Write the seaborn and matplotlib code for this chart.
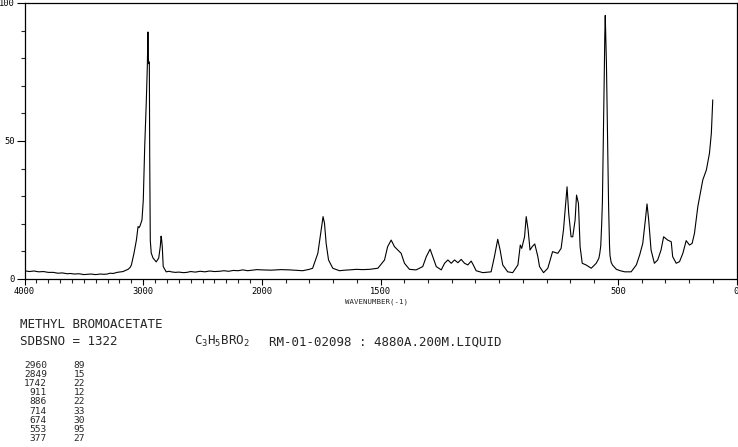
"""
Raman spectrum of methyl bromoacetate (SDBS style sheet).
"""
import numpy as np
import pandas as pd
import matplotlib
matplotlib.use("Agg")
import matplotlib.pyplot as plt
from matplotlib.ticker import FixedLocator, MultipleLocator, FuncFormatter
import seaborn as sns

# ===========================================================================
# DATA
# ===========================================================================
WAVENUMBER = [
    4000, 3960, 3920, 3880, 3840, 3800, 3757, 3720, 3680, 3640, 3614, 3580,
    3540, 3500, 3471, 3440, 3400, 3360, 3330, 3303, 3280, 3253, 3220, 3190,
    3169, 3150, 3127, 3110, 3099, 3077, 3057, 3043, 3035, 3026, 3010, 2999,
    2987, 2974, 2965, 2960, 2956, 2953, 2948, 2945, 2940, 2932, 2917, 2890,
    2869, 2856, 2849, 2845, 2839, 2831, 2806, 2780, 2764, 2730, 2700, 2660,
    2632, 2600, 2560, 2520, 2480, 2440, 2400, 2355, 2320, 2280, 2240, 2200,
    2160, 2120, 2078, 2040, 2000, 1960, 1920, 1883, 1850, 1828, 1800, 1786,
    1764, 1750, 1742, 1736, 1729, 1719, 1701, 1673, 1650, 1631, 1602, 1575,
    1546, 1511, 1483, 1470, 1455, 1441, 1427, 1413, 1399, 1378, 1350, 1322,
    1307, 1291, 1280, 1265, 1244, 1230, 1216, 1202, 1188, 1174, 1160, 1146,
    1132, 1118, 1109, 1097, 1069, 1034, 1020, 1006, 996, 985, 964, 943,
    921, 911, 905, 893, 886, 878, 870, 861, 850, 837, 830, 813,
    795, 775, 753, 739, 729, 721, 714, 707, 697, 690, 680, 674,
    666, 659, 650, 634, 612, 591, 580, 576, 572, 568, 565, 562,
    560, 557, 555, 553, 551, 548, 545, 543, 539, 535, 533, 528,
    522, 506, 490, 471, 444, 422, 408, 395, 384, 377, 370, 360,
    346, 332, 318, 307, 290, 275, 269, 254, 240, 226, 212, 198,
    187, 177, 163, 142, 127, 114, 106, 100,
]
INTENSITY = [
    3.0, 2.7, 2.9, 2.6, 2.7, 2.4, 2.4, 2.1, 2.2, 1.9, 2.0, 1.8,
    1.9, 1.6, 1.7, 1.8, 1.6, 1.8, 1.7, 1.8, 2.1, 2.0, 2.4, 2.6,
    2.7, 3.1, 3.5, 4.2, 5.1, 9.4, 14.1, 19.0, 18.6, 19.3, 21.4, 28.6,
    48.0, 63.8, 77.0, 89.5, 80.0, 78.0, 78.6, 45.0, 14.0, 9.4, 7.6, 6.2,
    7.6, 11.7, 15.5, 14.5, 11.7, 4.5, 2.6, 2.8, 2.6, 2.4, 2.5, 2.3,
    2.4, 2.7, 2.5, 2.8, 2.6, 2.9, 2.7, 2.8, 3.0, 2.8, 3.1, 3.0,
    3.3, 3.0, 3.2, 3.4, 3.3, 3.2, 3.4, 3.3, 3.1, 3.0, 3.5, 3.9,
    9.3, 17.8, 22.6, 20.2, 12.9, 6.9, 3.9, 3.0, 3.2, 3.3, 3.5, 3.4,
    3.5, 3.9, 6.9, 11.7, 14.1, 11.7, 10.5, 9.3, 5.7, 3.5, 3.3, 4.5,
    8.1, 10.8, 8.1, 4.5, 3.3, 5.7, 6.9, 5.7, 6.9, 5.9, 7.1, 5.7,
    5.1, 6.5, 5.1, 3.0, 2.3, 2.6, 8.1, 14.4, 10.5, 5.1, 2.6, 2.3,
    5.1, 12.3, 11.1, 15.3, 22.6, 17.8, 10.5, 11.7, 12.7, 8.1, 4.5, 2.3,
    3.9, 9.9, 9.3, 11.1, 17.8, 26.2, 33.4, 23.8, 15.3, 15.3, 21.4, 30.4,
    27.4, 11.7, 5.7, 5.1, 3.9, 5.7, 7.5, 9.3, 12.0, 20.0, 28.0, 45.0,
    55.0, 75.0, 88.0, 95.5, 88.0, 78.0, 60.0, 48.0, 26.8, 12.0, 8.5, 6.0,
    5.0, 3.5, 3.0, 2.6, 2.6, 5.1, 8.7, 12.9, 21.4, 27.2, 21.4, 10.5,
    5.7, 6.9, 10.5, 15.3, 14.1, 13.5, 8.1, 5.7, 6.3, 9.3, 13.9, 12.3,
    12.9, 16.6, 26.2, 35.9, 39.5, 45.5, 52.8, 64.9,
]

PEAK_POS = [2960, 2849, 1742, 911, 886, 714, 674, 553, 377]
PEAK_INT = [89, 15, 22, 12, 22, 33, 30, 95, 27]

X_TICKS = [4000, 3000, 2000, 1500, 500, 0]
Y_TICKS = [0, 50, 100]

COMPOUND = "METHYL BROMOACETATE"
SDBS_NO = "SDBSNO = 1322"
FORMULA = "C$_3$H$_5$BRO$_2$"
CONDITIONS = "RM-01-02098 : 4880A.200M.LIQUID"

spec = pd.DataFrame({"wavenumber": WAVENUMBER, "intensity": INTENSITY})

# ===========================================================================
# STYLE
# ===========================================================================
sns.set_style("ticks")
plt.rcParams["font.family"] = ["DejaVu Sans Mono"]
plt.rcParams["mathtext.fontset"] = "custom"
plt.rcParams["mathtext.rm"] = "DejaVu Sans Mono"
plt.rcParams["mathtext.it"] = "DejaVu Sans Mono"
plt.rcParams["mathtext.default"] = "rm"

W, H = 738, 447


def fx(px):
    return px / W


def fy(py):
    return 1 - py / H


# x axis is compressed 2:1 above 2000 cm-1
def fwd(w):
    w = np.asarray(w, dtype=float)
    return np.where(w > 2000, 1000 + w / 2, w)


def inv(p):
    p = np.asarray(p, dtype=float)
    return np.where(p > 2000, (p - 1000) * 2, p)


# ===========================================================================
# PLOT
# ===========================================================================
fig = plt.figure(figsize=(W / 100, H / 100), dpi=100)
ax = fig.add_axes([fx(24.5), fy(279), (736.5 - 24.5) / W, 276 / H])

sns.lineplot(data=spec, x="wavenumber", y="intensity", sort=False,
             estimator=None, color="black", linewidth=0.8, ax=ax)

ax.set_xscale("function", functions=(fwd, inv))
ax.set_xlim(4000, 0)
ax.set_ylim(0, 100)

ax.xaxis.set_major_locator(FixedLocator(X_TICKS))
ax.xaxis.set_minor_locator(MultipleLocator(100))
ax.xaxis.set_major_formatter(FuncFormatter(lambda v, _: f"{v:.0f}"))
ax.xaxis.set_minor_formatter(FuncFormatter(lambda v, _: ""))
ax.yaxis.set_major_locator(FixedLocator(Y_TICKS))
ax.yaxis.set_minor_locator(MultipleLocator(10))

ax.tick_params(axis="x", which="major", direction="out", length=4.2, width=0.8,
               pad=1.6, labelsize=6.3, colors="black")
ax.tick_params(axis="x", which="minor", direction="out", length=3, width=0.8)
ax.tick_params(axis="y", which="major", direction="out", length=6, width=0.8,
               pad=1.2, labelsize=6.3, colors="black")
ax.tick_params(axis="y", which="minor", direction="out", length=3.2, width=0.8)

for side in ["left", "right", "top", "bottom"]:
    ax.spines[side].set_visible(True)
    ax.spines[side].set_linewidth(0.9)
    ax.spines[side].set_color("black")

ax.set_xlabel("")
ax.set_ylabel("")
fig.text(fx(377), fy(301.5), "WAVENUMBER(-1)", ha="center", va="center",
         fontsize=5.3)

# Header lines
fig.text(fx(20), fy(325), COMPOUND, ha="left", va="center", fontsize=9)
fig.text(fx(20), fy(341.7), SDBS_NO, ha="left", va="center", fontsize=9)
fig.text(fx(194), fy(341.7), FORMULA, ha="left", va="center", fontsize=9)
fig.text(fx(269), fy(341.7), CONDITIONS, ha="left", va="center", fontsize=9)

# Peak table
for i, (pos, inten) in enumerate(zip(PEAK_POS, PEAK_INT)):
    y = 365 + i * 9.2
    fig.text(fx(47), fy(y), f"{pos}", ha="right", va="center", fontsize=6.8)
    fig.text(fx(85), fy(y), f"{inten}", ha="right", va="center", fontsize=6.8)

fig.savefig("out.png", dpi=100)
plt.close(fig)
